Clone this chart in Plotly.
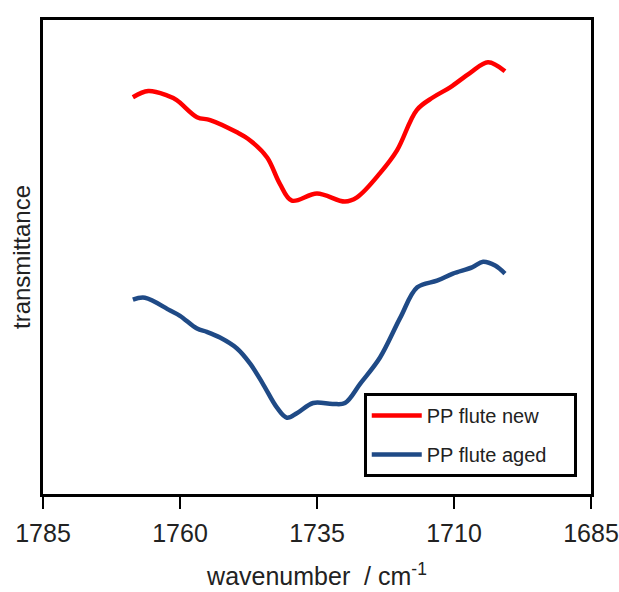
import plotly.graph_objects as go

# wavenumber (cm-1) and transmittance (arbitrary units)
wn_new = [1768.6, 1765.8, 1762.4, 1760.6, 1756.9, 1754.5, 1749.6, 1747.2, 1744.1, 1741.8,
          1739.6, 1735.0, 1729.9, 1727.7, 1723.5, 1720.4, 1716.8, 1713.8, 1710.7, 1707.1,
          1703.8, 1700.7]
t_new = [83.7, 85.0, 84.1, 83.1, 79.5, 78.9, 76.3, 74.6, 71.0, 65.5,
         61.9, 63.4, 61.7, 62.6, 67.7, 72.5, 81.0, 83.7, 85.8, 88.8,
         91.1, 89.2]

wn_aged = [1768.6, 1766.4, 1761.8, 1760.0, 1756.9, 1755.1, 1752.7, 1749.6, 1747.2, 1744.9,
           1742.3, 1740.5, 1738.6, 1735.7, 1732.1, 1729.9, 1727.1, 1723.5, 1719.8, 1716.7,
           1713.1, 1710.2, 1706.7, 1704.7, 1702.5, 1700.7]
t_aged = [41.0, 41.4, 38.7, 37.6, 34.9, 34.2, 33.0, 30.7, 27.5, 23.3,
          18.2, 16.1, 17.1, 19.2, 19.0, 19.2, 23.3, 28.8, 37.2, 43.6,
          45.0, 46.5, 47.8, 49.0, 48.2, 46.5]

x_ticks = [1785, 1760, 1735, 1710, 1685]
series_names = ["PP flute new", "PP flute aged"]
pad = "\u00a0" * 4

fig = go.Figure()
fig.add_trace(go.Scatter(x=wn_new, y=t_new, mode="lines", name=series_names[0] + pad,
                         legendgroup="a",
                         line=dict(color="#ff0000", width=4.5, shape="spline", smoothing=1.0)))
fig.add_trace(go.Scatter(x=wn_aged, y=t_aged, mode="lines", name=series_names[1] + pad,
                         legendgroup="b",
                         line=dict(color="#1f4a86", width=4.5, shape="spline", smoothing=1.0)))

fig.update_layout(
    width=619, height=592,
    margin=dict(l=43, r=28, t=20, b=98, autoexpand=False),
    paper_bgcolor="white", plot_bgcolor="white",
    font=dict(family="Liberation Sans, Arial, sans-serif", color="#222222"),
    showlegend=True,
    legend=dict(x=0.974, y=0.036, xanchor="right", yanchor="bottom",
                bgcolor="white", bordercolor="black", borderwidth=3,
                font=dict(size=20), tracegroupgap=10, traceorder="grouped",
                itemwidth=50),
    xaxis=dict(range=[1785, 1685], tickvals=x_ticks, ticktext=[str(v) for v in x_ticks],
               ticks="outside", ticklen=12, tickwidth=2, tickcolor="black",
               ticklabeloverflow="allow", ticklabelstandoff=3, automargin=False,
               showline=True, linewidth=3, linecolor="black", mirror=True,
               showgrid=False, zeroline=False,
               tickfont=dict(size=25),
               title=dict(text="wavenumber  / cm<sup>-1</sup>", font=dict(size=25), standoff=22)),
    yaxis=dict(range=[0, 100], showticklabels=False, ticks="", automargin=False,
               showline=True, linewidth=3, linecolor="black", mirror=True,
               showgrid=False, zeroline=False,
               title=dict(text="transmittance", font=dict(size=24), standoff=3)),
)

fig.write_html("out.html")
